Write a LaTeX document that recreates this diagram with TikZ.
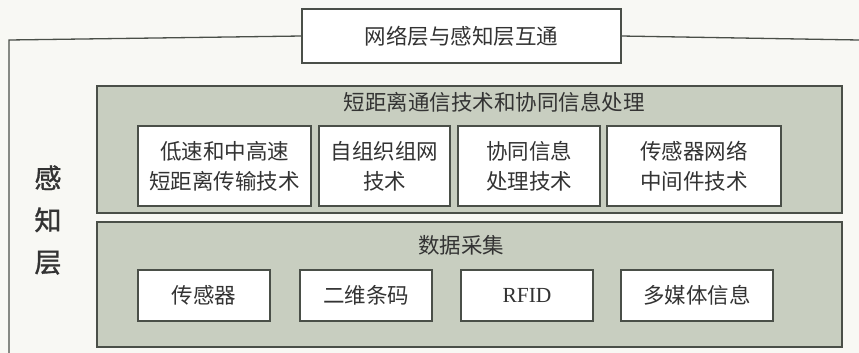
\documentclass[tikz,border=0pt]{standalone}
\usepackage{fontspec}
\setmainfont{Liberation Serif}
\newfontfamily\cjk{Noto Sans CJK SC}
\newfontfamily\cjkb[FakeBold=1.2]{Noto Sans CJK SC}
\definecolor{bgc}{HTML}{F8F8F4}
\definecolor{panelc}{HTML}{C8CEC0}
\definecolor{linec}{HTML}{4A4F48}
\definecolor{textc}{HTML}{333333}
\tikzset{
  frameline/.style={draw=linec, line width=1.3pt},
  panel/.style={frameline, fill=panelc, inner sep=0pt, outer sep=0pt},
  itembox/.style={frameline, fill=white, inner sep=0pt, outer sep=0pt, text=textc, font=\cjk\fontsize{21.5}{30}\selectfont, align=center},
  ptitle/.style={text=textc, font=\cjk\fontsize{21.5}{26}\selectfont, inner sep=0pt},
}
\begin{document}
\begin{tikzpicture}[x=1pt,y=-1pt]
\fill[bgc] (0,0) rectangle (859,353);
\useasboundingbox (0,0) rectangle (859,353);
% outer frame
\coordinate (fl) at (9,40);
\coordinate (fr) at (859,40);
\coordinate (fb) at (9,353);
\node[itembox, minimum width=319pt, minimum height=54pt] (top) at (461.5,36) {网络层与感知层互通};
\draw[frameline] (top.west) -- (fl) -- (fb);
\draw[frameline] (top.east) -- (fr);
% left label
\node[text=textc, font=\cjkb\fontsize{27}{42}\selectfont, align=center, inner sep=0pt] (lbl) at (48,220) {感\\知\\层};
% upper panel
\node[panel, minimum width=745pt, minimum height=127pt] (up) at (469.5,149.5) {};
\node[ptitle] (upt) at (494,102) {短距离通信技术和协同信息处理};
\node[itembox, minimum width=173pt, minimum height=80pt] (u1) at (224.5,166) {低速和中高速\\短距离传输技术};
\node[itembox, minimum width=131pt, minimum height=80pt] (u2) at (384.5,166) {自组织组网\\技术};
\node[itembox, minimum width=142pt, minimum height=80pt] (u3) at (529,166) {协同信息\\处理技术};
\node[itembox, minimum width=174pt, minimum height=80pt] (u4) at (694,166) {传感器网络\\中间件技术};
% lower panel
\node[panel, minimum width=745pt, minimum height=125pt] (lo) at (469.5,284.5) {};
\node[ptitle] (lot) at (461,245) {数据采集};
\node[itembox, minimum width=132pt, minimum height=51pt] (d1) at (204,295.5) {传感器};
\node[itembox, minimum width=132pt, minimum height=51pt] (d2) at (366,295.5) {二维条码};
\node[itembox, minimum width=132pt, minimum height=51pt, font=\fontsize{21.5}{26}\selectfont] (d3) at (527,295.5) {RFID};
\node[itembox, minimum width=152pt, minimum height=51pt] (d4) at (697,295.5) {多媒体信息};
\end{tikzpicture}
\end{document}
